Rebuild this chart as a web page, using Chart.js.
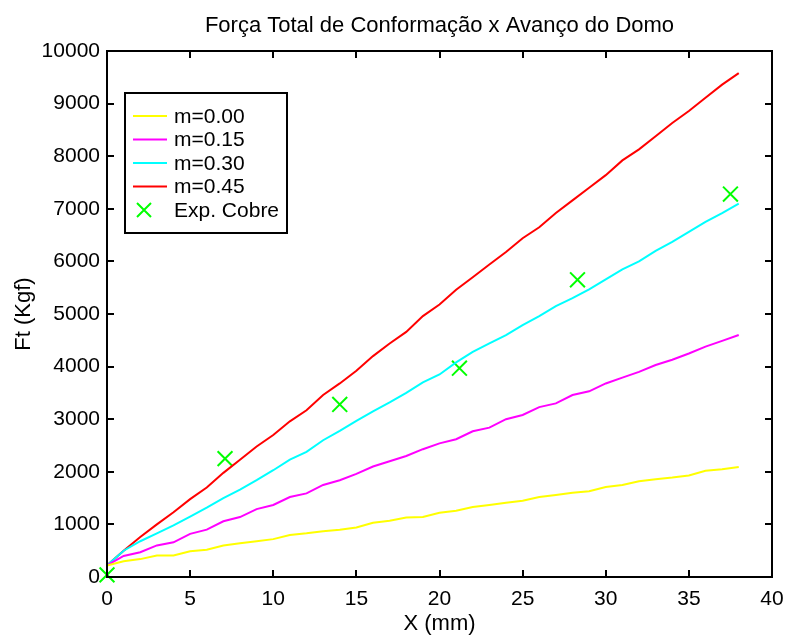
<!DOCTYPE html>
<html>
<head>
<meta charset="utf-8">
<script src="https://cdn.jsdelivr.net/npm/chart.js@4/dist/chart.umd.min.js"></script>
<style>
  html, body { margin: 0; padding: 0; background: #fff; }
  #wrap { width: 785px; height: 637px; }
</style>
</head>
<body>
<div id="wrap"><canvas id="c" width="785" height="637"></canvas></div>
<script>
// ---- Data ----
const titleText = "Força Total de Conformação x Avanço do Domo";
const xLabel = "X (mm)";
const yLabel = "Ft (Kgf)";
const seriesLabels = ["m=0.00", "m=0.15", "m=0.30", "m=0.45", "Exp. Cobre"];

const xValues = [0,1,2,3,4,5,6,7,8,9,10,11,12,13,14,15,16,17,18,19,20,21,22,23,24,25,26,27,28,29,30,31,32,33,34,35,36,37,38];

const yM000 = [220,300,340,410,410,490,520,600,640,680,720,800,830,870,900,940,1030,1070,1130,1140,1220,1260,1330,1370,1410,1450,1520,1560,1600,1630,1710,1750,1820,1860,1890,1930,2020,2050,2090];
const yM015 = [220,400,470,600,660,820,900,1060,1140,1290,1370,1520,1590,1750,1840,1960,2100,2200,2300,2430,2540,2620,2770,2840,3000,3080,3230,3300,3460,3530,3680,3790,3900,4030,4130,4250,4380,4490,4600];
const yM030 = [220,500,680,830,980,1150,1320,1500,1660,1840,2030,2230,2380,2600,2780,2970,3150,3320,3500,3700,3850,4080,4280,4440,4600,4790,4960,5150,5300,5470,5660,5850,6000,6200,6370,6560,6750,6920,7100];
const yM045 = [220,500,760,1000,1230,1480,1700,1980,2230,2480,2700,2960,3170,3460,3680,3920,4200,4440,4660,4960,5180,5460,5700,5940,6180,6440,6650,6920,7160,7400,7640,7920,8130,8380,8630,8860,9110,9360,9580];

const expX = [0, 7.1, 14.0, 21.2, 28.3, 37.5];
const expY = [40, 2250, 3280, 3970, 5650, 7280];

const xTickMin = 0, xTickMax = 40, xTickStep = 5;
const yTickMin = 0, yTickMax = 10000, yTickStep = 1000;

// ---- Build datasets ----
const toPts = (xs, ys) => xs.map((x, i) => ({x: x, y: ys[i]}));
const lineColors = ["#ffff00", "#ff00ff", "#00ffff", "#ff0000"];
const FONT = "'Liberation Sans', Arial, Helvetica, sans-serif";

const lineSeries = [yM000, yM015, yM030, yM045];
const datasets = lineSeries.map((ys, i) => ({
  type: 'line',
  label: seriesLabels[i],
  data: toPts(xValues, ys),
  borderColor: lineColors[i],
  backgroundColor: lineColors[i],
  borderWidth: 2,
  pointRadius: 0,
  tension: 0,
  fill: false
}));
datasets.push({
  type: 'scatter',
  label: seriesLabels[4],
  data: toPts(expX, expY),
  pointStyle: 'crossRot',
  pointRadius: 10.5,
  pointBorderWidth: 2,
  borderColor: '#00ff00',
  backgroundColor: '#00ff00',
  showLine: false,
  clip: false
});

// ---- Frame with inward ticks on all four sides + MATLAB-style legend ----
const framePlugin = {
  id: 'frame',
  afterDatasetsDraw(chart) {
    const {ctx, chartArea: a, scales} = chart;
    const tl = 7;
    ctx.save();
    ctx.strokeStyle = '#000';
    ctx.lineWidth = 2;
    ctx.strokeRect(a.left, a.top, a.right - a.left, a.bottom - a.top);
    ctx.beginPath();
    scales.x.ticks.forEach(t => {
      const p = Math.round(scales.x.getPixelForValue(t.value));
      ctx.moveTo(p, a.bottom); ctx.lineTo(p, a.bottom - tl);
      ctx.moveTo(p, a.top); ctx.lineTo(p, a.top + tl);
    });
    scales.y.ticks.forEach(t => {
      const p = Math.round(scales.y.getPixelForValue(t.value));
      ctx.moveTo(a.left, p); ctx.lineTo(a.left + tl, p);
      ctx.moveTo(a.right, p); ctx.lineTo(a.right - tl, p);
    });
    ctx.stroke();
    ctx.restore();
  },
  afterDraw(chart) {
    const {ctx, chartArea: a} = chart;
    const bx = a.left + 18, by = a.top + 42, bw = 162, bh = 140;
    ctx.save();
    ctx.fillStyle = '#fff';
    ctx.fillRect(bx, by, bw, bh);
    ctx.strokeStyle = '#000';
    ctx.lineWidth = 2;
    ctx.strokeRect(bx, by, bw, bh);
    ctx.font = '21px ' + FONT;
    ctx.textBaseline = 'middle';
    const rowH = 23.5;
    chart.data.datasets.forEach((ds, i) => {
      const cy = by + 23 + i * rowH;
      const x0 = bx + 8, x1 = bx + 42;
      ctx.strokeStyle = ds.borderColor;
      ctx.lineWidth = 2;
      ctx.beginPath();
      if (ds.type === 'line') {
        ctx.moveTo(x0, cy); ctx.lineTo(x1, cy);
      } else {
        const cx = (x0 + x1) / 2 - 6, r = 7;
        ctx.moveTo(cx - r, cy - r); ctx.lineTo(cx + r, cy + r);
        ctx.moveTo(cx + r, cy - r); ctx.lineTo(cx - r, cy + r);
      }
      ctx.stroke();
      ctx.fillStyle = '#000';
      ctx.fillText(ds.label, bx + 49, cy + 1);
    });
    ctx.restore();
  }
};

const zeroPad = s => { s.paddingLeft = 0; s.paddingRight = 0; s.paddingTop = 0; s.paddingBottom = 0; };

new Chart(document.getElementById('c'), {
  data: { datasets: datasets },
  options: {
    responsive: false,
    animation: false,
    devicePixelRatio: 1,
    layout: { padding: { left: 0, right: 13, top: 0, bottom: 0 } },
    plugins: {
      legend: { display: false },
      tooltip: { enabled: false },
      title: {
        display: true,
        fullSize: false,
        text: titleText,
        color: '#000',
        font: { family: FONT, size: 22, weight: 'normal', lineHeight: 1.2 },
        padding: { top: 13, bottom: 11.6 }
      }
    },
    scales: {
      x: {
        type: 'linear',
        min: xTickMin, max: xTickMax,
        grid: { display: false, drawTicks: false },
        border: { display: false },
        ticks: { stepSize: xTickStep, color: '#000', padding: 10, font: { family: FONT, size: 21 } },
        title: { display: true, text: xLabel, color: '#000', padding: { top: 0, bottom: 2 }, font: { family: FONT, size: 22, lineHeight: 1.0 } },
        afterFit(s) { s.height = 60; zeroPad(s); }
      },
      y: {
        type: 'linear',
        min: yTickMin, max: yTickMax,
        grid: { display: false, drawTicks: false },
        border: { display: false },
        ticks: { stepSize: yTickStep, color: '#000', padding: 7, font: { family: FONT, size: 21 },
                 callback: v => String(v) },
        title: { display: true, text: yLabel, color: '#000', padding: { top: 11, bottom: 0 }, font: { family: FONT, size: 22, lineHeight: 1.2 } },
        afterFit(s) { s.width = 107; zeroPad(s); }
      }
    }
  },
  plugins: [framePlugin]
});
</script>
</body>
</html>
